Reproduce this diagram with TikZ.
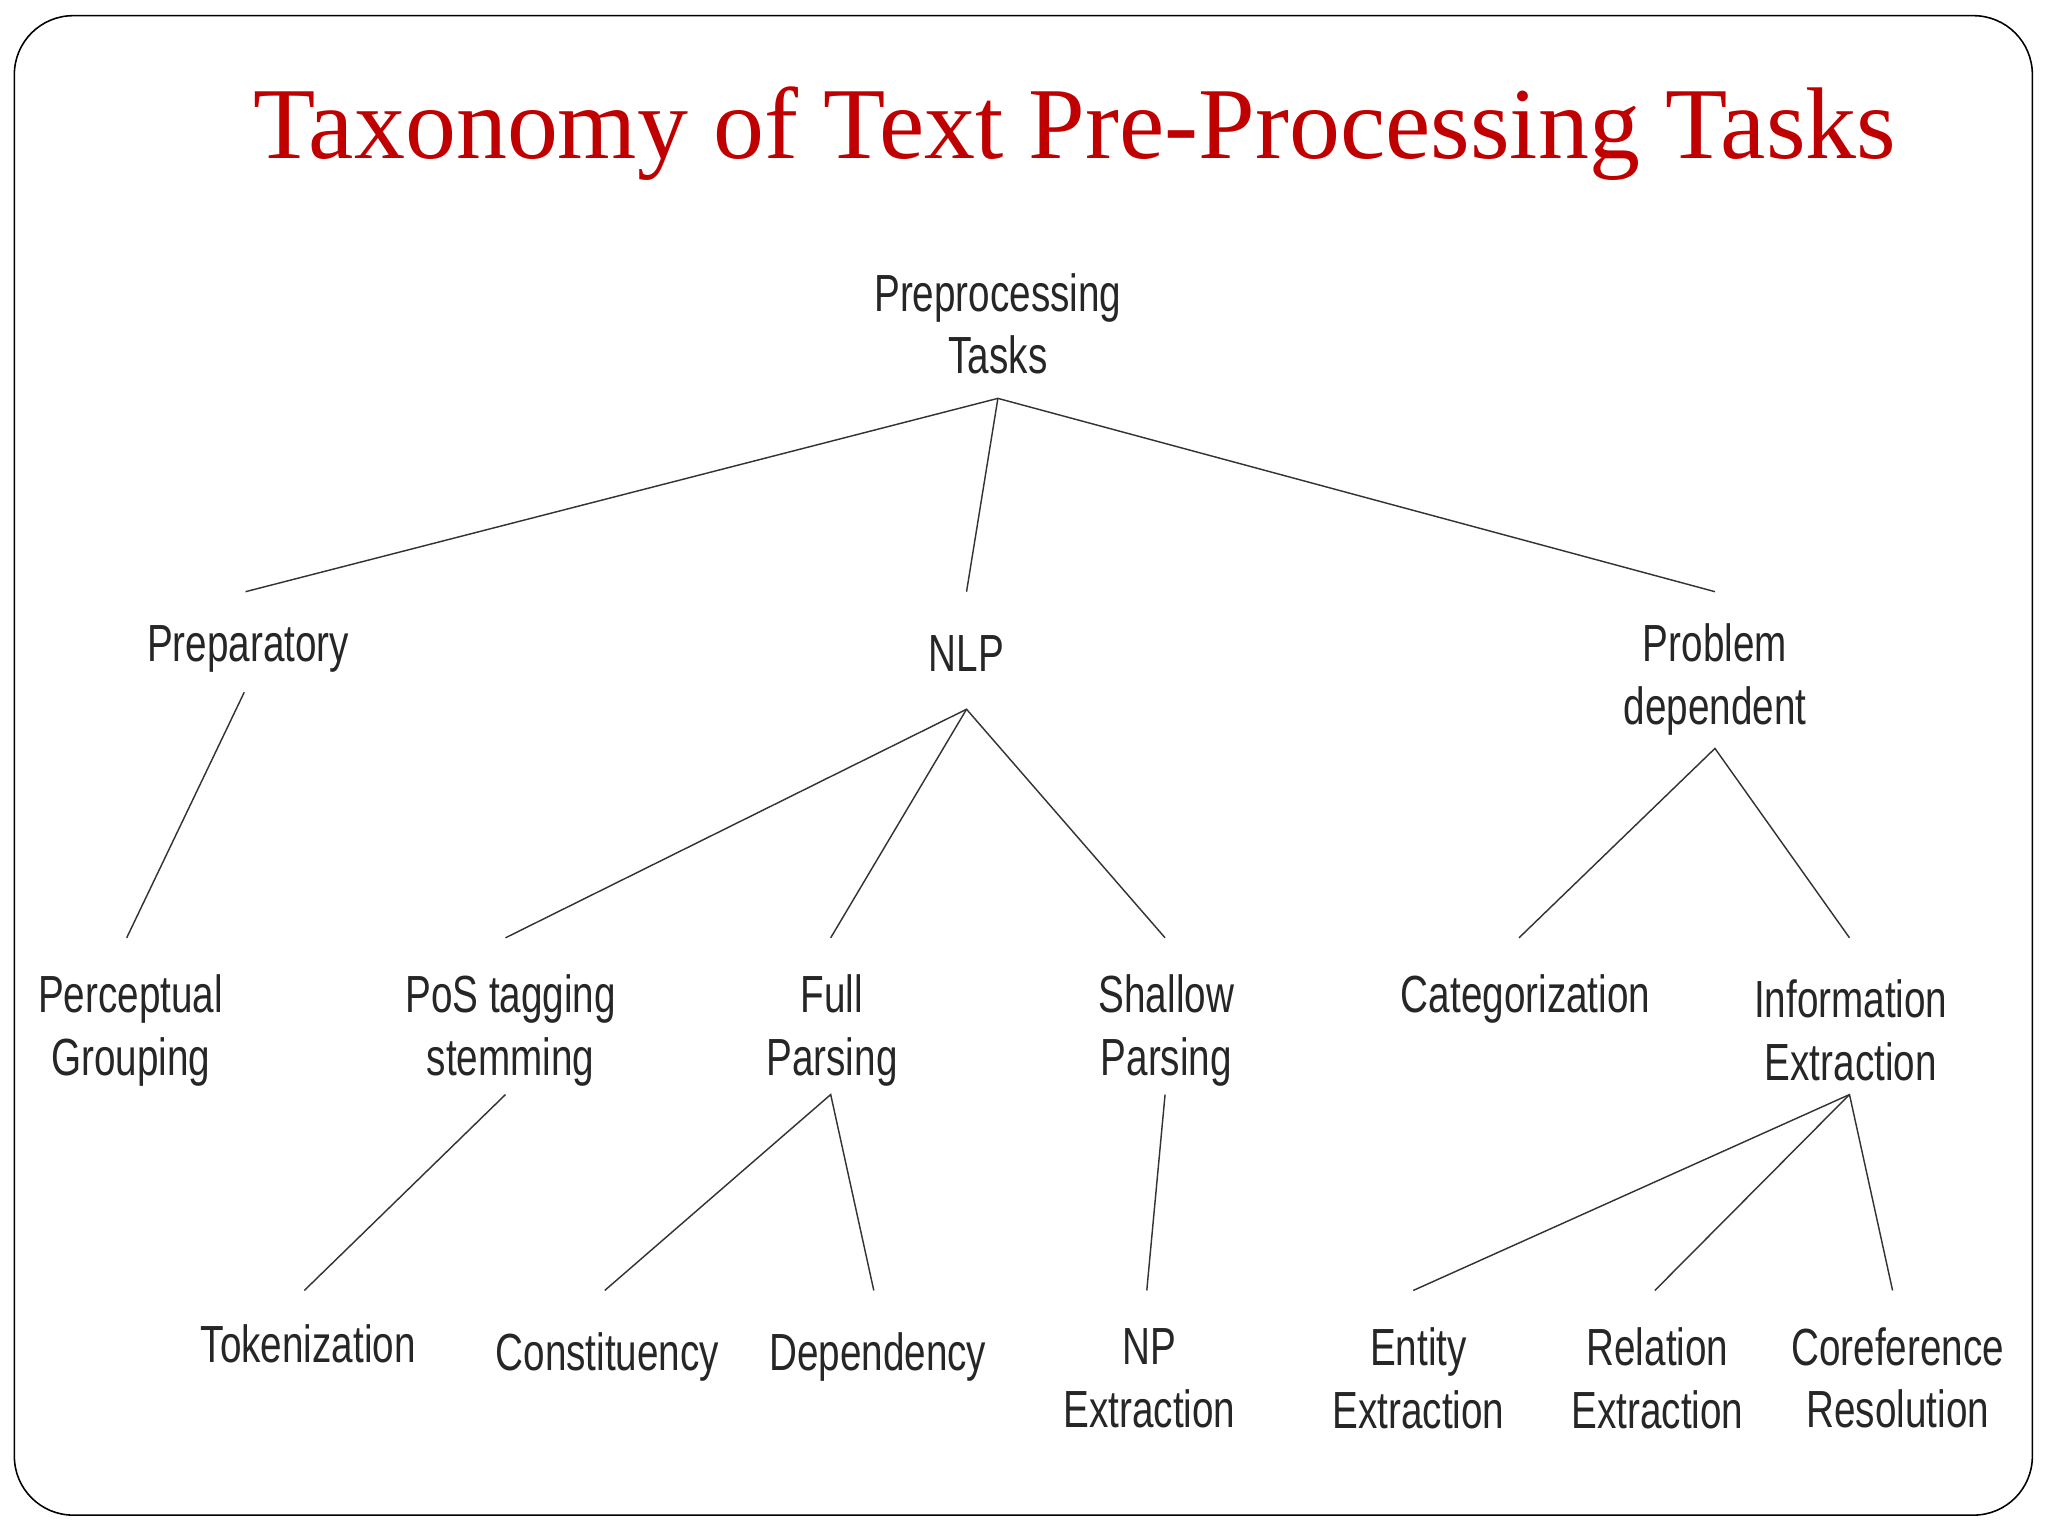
\documentclass[tikz,border=0pt]{standalone}
\usepackage{fontspec}
\setmainfont{Liberation Serif}
\newfontfamily\nar[FakeStretch=0.74]{Liberation Sans}
\definecolor{titlered}{RGB}{192,0,0}
\begin{document}
\begin{tikzpicture}[x=1pt,y=-1pt,
  lbl/.style={font=\nar\fontsize{40}{48}\selectfont,align=center,inner sep=0pt,text=black!85},
  edge/.style={draw=black!80,line width=1.1pt}]
\useasboundingbox (0,0) rectangle (1568,1176);
\fill[white] (0,0) rectangle (1568,1176);
\draw[line width=1.2pt,rounded corners=45pt] (11,12) rectangle (1556,1160);
\node[font=\fontsize{78}{82}\selectfont,text=titlered,inner sep=0pt] (title) at (823,102) {Taxonomy of Text Pre-Processing Tasks};
% nodes
\node[lbl] (root) at (764,248) {Preprocessing\\Tasks};
\node[lbl] (prep) at (190,497) {Preparatory};
\node[lbl] (nlp) at (740,500) {NLP};
\node[lbl] (prob) at (1313,520) {Problem\\dependent};
\node[lbl] (perc) at (100,789) {Perceptual\\Grouping};
\node[lbl] (pos) at (391,789) {PoS tagging\\stemming};
\node[lbl] (full) at (637,789) {Full\\Parsing};
\node[lbl] (shal) at (893,789) {Shallow\\Parsing};
\node[lbl] (cat) at (1168,765) {Categorization};
\node[lbl] (info) at (1417,789) {Information\\Extraction};
\node[lbl] (tok) at (236,1029) {Tokenization};
\node[lbl] (con) at (465,1039) {Constituency};
\node[lbl] (dep) at (672,1039) {Dependency};
\node[lbl] (np) at (880,1055) {NP\\Extraction};
\node[lbl] (ent) at (1086,1055) {Entity\\Extraction};
\node[lbl] (rel) at (1269,1055) {Relation\\Extraction};
\node[lbl] (cor) at (1453,1055) {Coreference\\Resolution};
% connector ends
\coordinate (rootB) at (764,305);
\coordinate (prepT) at (188,453); \coordinate (nlpT) at (740,453); \coordinate (probT) at (1313,453);
\coordinate (prepB) at (187,530); \coordinate (percT) at (97,718);
\coordinate (nlpB) at (740,543); \coordinate (posT) at (387,718); \coordinate (fullT) at (636,718); \coordinate (shalT) at (892,718);
\coordinate (probB) at (1313,573); \coordinate (catT) at (1163,718); \coordinate (infoT) at (1416,718);
\coordinate (posB) at (387,838); \coordinate (tokT) at (233,988);
\coordinate (fullB) at (636,838); \coordinate (conT) at (463,988); \coordinate (depT) at (669,988);
\coordinate (shalB) at (892,838); \coordinate (npT) at (878,988);
\coordinate (infoB) at (1416,838); \coordinate (entT) at (1082,988); \coordinate (relT) at (1267,988); \coordinate (corT) at (1449,988);
\draw[edge] (prepT) -- (rootB) -- (probT);
\draw[edge] (rootB) -- (nlpT);
\draw[edge] (prepB) -- (percT);
\draw[edge] (posT) -- (nlpB) -- (shalT);
\draw[edge] (nlpB) -- (fullT);
\draw[edge] (catT) -- (probB) -- (infoT);
\draw[edge] (posB) -- (tokT);
\draw[edge] (conT) -- (fullB) -- (depT);
\draw[edge] (shalB) -- (npT);
\draw[edge] (entT) -- (infoB) -- (corT);
\draw[edge] (infoB) -- (relT);
\end{tikzpicture}
\end{document}
